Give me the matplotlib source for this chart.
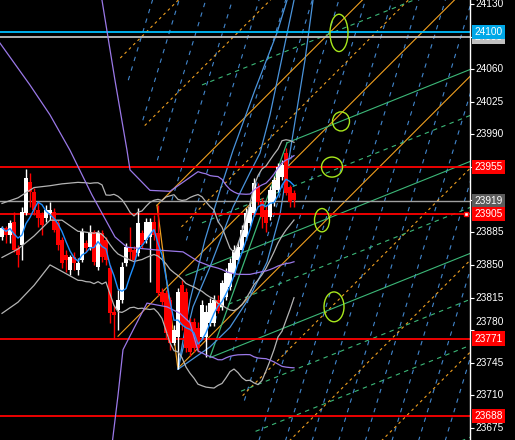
import numpy as np
import pandas as pd
import matplotlib
matplotlib.use("Agg")
import matplotlib.pyplot as plt
from matplotlib.patches import Ellipse

# ---------------- candles (oldest first) ----------------
opens = [23880, 23890, 23882, 23896, 23868, 23871, 23906, 23939, 23928, 23909,
         23904, 23900, 23906, 23907, 23895, 23877, 23861, 23845, 23859, 23845,
         23855, 23874, 23869, 23885, 23848, 23884, 23877, 23847, 23800, 23802,
         23812, 23852, 23868, 23866, 23863, 23884, 23877, 23880, 23896, 23884,
         23821, 23820, 23812, 23766, 23773, 23828, 23821, 23789, 23789, 23782,
         23773, 23773, 23788, 23788, 23812, 23805, 23816, 23826, 23841, 23855,
         23866, 23880, 23895, 23906, 23934, 23917, 23909, 23901, 23917, 23930,
         23944, 23970, 23934, 23927]
highs = [23892, 23892, 23898, 23907, 23871, 23912, 23953, 23949, 23933, 23918,
         23907, 23914, 23917, 23911, 23898, 23880, 23866, 23861, 23864, 23857,
         23890, 23877, 23893, 23888, 23888, 23888, 23880, 23850, 23807, 23823,
         23853, 23874, 23891, 23870, 23911, 23888, 23900, 23900, 23904, 23914,
         23825, 23823, 23816, 23785, 23825, 23834, 23825, 23793, 23793, 23789,
         23812, 23807, 23815, 23818, 23818, 23834, 23847, 23857, 23871, 23875,
         23893, 23911, 23918, 23943, 23938, 23922, 23914, 23935, 23945, 23959,
         23963, 23976, 23936, 23930]
lows = [23877, 23874, 23874, 23864, 23848, 23855, 23904, 23912, 23904, 23891,
        23882, 23896, 23898, 23885, 23866, 23847, 23842, 23839, 23845, 23839,
        23853, 23864, 23866, 23850, 23845, 23853, 23850, 23788, 23770, 23780,
        23809, 23849, 23855, 23852, 23860, 23868, 23874, 23832, 23877, 23817,
        23807, 23772, 23759, 23764, 23738, 23780, 23757, 23752, 23757, 23757,
        23770, 23751, 23784, 23784, 23798, 23802, 23812, 23823, 23838, 23852,
        23864, 23877, 23892, 23903, 23914, 23890, 23885, 23898, 23913, 23928,
        23941, 23925, 23912, 23912]
closes = [23890, 23882, 23895, 23866, 23861, 23907, 23943, 23928, 23909, 23900,
          23893, 23909, 23909, 23888, 23871, 23852, 23855, 23859, 23852, 23852,
          23885, 23868, 23885, 23853, 23884, 23859, 23855, 23798, 23796, 23812,
          23848, 23869, 23864, 23855, 23895, 23871, 23896, 23896, 23882, 23820,
          23810, 23777, 23766, 23780, 23821, 23785, 23761, 23757, 23761, 23761,
          23807, 23800, 23809, 23812, 23801, 23831, 23841, 23852, 23866, 23869,
          23888, 23906, 23912, 23938, 23917, 23901, 23895, 23930, 23941, 23955,
          23957, 23927, 23917, 23920]

# bollinger(20) values before bar 19 (history not on screen)
bb20_early_bars = [0, 4, 8, 12, 15]
bb20_early_up = [23916, 23922, 23933, 23935, 23937]
bb20_early_mid = [23858, 23867, 23881, 23898, 23898]
bb20_early_low = [23798, 23810, 23828, 23850, 23843]

# bollinger(50) (purple) before bar 49
bb50_up_bars = [24, 25, 28.25, 31.25, 32, 37, 42, 46]
bb50_up = [24145, 24134, 24048, 23973, 23952, 23930, 23929, 23941]
bb50_mid_bars = [-0.5, 7, 12, 17, 22.5, 28.25, 31.25, 38.75, 45.25]
bb50_mid = [24088, 24043, 24011, 23973, 23925, 23880, 23869, 23866, 23864]
bb50_low_bars = [27.5, 29, 30.25, 32.75, 36.25, 41.25, 44.5, 47]
bb50_low = [23657, 23710, 23759, 23780, 23809, 23805, 23798, 23788]

# horizontal levels
levels = [24100, 24095, 23955, 23919, 23905, 23771, 23688]
level_colors = ['#00bfff', '#c0c0c0', '#ff0000', '#a0a0a0', '#ff0000', '#ff0000', '#ff0000']
tag_colors = ['#00a8e8', '#c0c0c0', '#ff0000', '#5c5c5c', '#ff0000', '#ff0000', '#ff0000']

# price axis
tick_prices = [24130, 24095, 24060, 24025, 23990, 23955, 23920, 23885, 23850,
               23815, 23780, 23745, 23710, 23675]

# grid anchors (bar, price), slopes in price per bar, spacing in price
high_pt = (38.75, 23914)
low_pt = (44, 23738)
low0_pt = (29, 23770)
green_origin = (71.25, 23981)
green_low = (52, 23751)
green_mid = (46, 23837)
orange_slope = 4.29
green_slope = 1.72
blue_slope = 14.2
grid_step = 98.7
blue_anchor = (72.75, 23688)
blue_step = 94.5
# line where the dashed grid starts (two points)
grid_edge = [(31.25, 24052), (44, 23901)]

# arcs drawn from the low
arc0_bars = [44, 47, 50.75, 54.5, 57.75, 63.25, 68.75, 71.25]
arc0_prices = [23738, 23812, 23877, 23930, 23973, 24038, 24099, 24134]
arc1_bars = [44, 47.75, 52, 57.75, 62, 64.5, 67, 69.5, 73]
arc1_prices = [23738, 23805, 23848, 23912, 23949, 23970, 24011, 24062, 24134]
arc2_bars = [44, 52, 57, 62, 66.25, 69.5, 72.5, 75.75, 77.75]
arc2_prices = [23738, 23762, 23783, 23816, 23853, 23904, 23984, 24070, 24134]

# marked zones (bar, price, width in bars, height in price)
zones = [(84.25, 24099, 4.5, 40), (84.75, 24004, 4.25, 20.5), (82.5, 23955, 5.25, 21.5),
         (80, 23898, 3.75, 25), (83, 23805, 5, 32)]

# ---------------- figure ----------------
fig = plt.figure(figsize=(5.15, 4.4), dpi=100, facecolor='black')
ax = fig.add_axes([0, 0, 470 / 515, 1], facecolor='black')
xmin, xmax = -0.5, 117
ymin, ymax = 23662.1, 24134.3
ax.set_xlim(xmin, xmax)
ax.set_ylim(ymin, ymax)

n = len(closes)
x = np.arange(n)
cs = pd.Series(closes, dtype=float)

(eb0, ep0), (eb1, ep1) = grid_edge
edge_slope = (ep1 - ep0) / (eb1 - eb0)


def edge_start(p0, b0, m):
    # bar where a line p0 + m*(b-b0) meets the start edge
    return (ep0 - edge_slope * eb0 - p0 + m * b0) / (m - edge_slope)


def draw_line(b0, p0, m, b_from, color, dashed, lw=0.8, dash=(3, 3), z=1):
    bb = np.array([b_from, xmax + 1])
    ls = (0, dash) if dashed else '-'
    ax.plot(bb, p0 + m * (bb - b0), color=color, lw=lw, ls=ls, zorder=z)


# blue dashed
bb0, bp0 = blue_anchor
for k in range(-7, 11):
    p = bp0 + k * blue_step
    draw_line(bb0, p, blue_slope, edge_start(p, bb0, blue_slope), '#4286cc', True, dash=(4, 5))

# orange grid
hb, hp = high_pt
for k in [2, 1, -0.5, -3, -4, -5]:
    p = hp + k * grid_step
    draw_line(hb, p, orange_slope, edge_start(p, hb, orange_slope), '#f0a020', True, dash=(2.5, 3))
draw_line(hb, hp, orange_slope, hb, '#f0a020', False)
draw_line(hb, hp - grid_step, orange_slope, low0_pt[0], '#f0a020', False)
draw_line(hb, hp - 2 * grid_step, orange_slope, low_pt[0], '#f0a020', False)
ax.plot([high_pt[0], low_pt[0]], [high_pt[1], low_pt[1]], color='#f0a020', lw=0.9, zorder=1)

# green grid
gb, gp = green_origin
for k in [1, -0.5, -1.5, -2.5, -3, -4]:
    p = gp + k * grid_step
    draw_line(gb, p, green_slope, max(edge_start(p, gb, green_slope), 50), '#3cb878', True, dash=(4, 4))
draw_line(gb, gp, green_slope, gb, '#3cb878', False)
draw_line(gb, gp - grid_step, green_slope, green_mid[0], '#3cb878', False)
draw_line(gb, gp - 2 * grid_step, green_slope, green_low[0], '#3cb878', False)
ax.plot([green_low[0], green_origin[0]], [green_low[1], green_origin[1]], color='#3cb878', lw=0.9, zorder=1)

# arcs
for ab, ap in [(arc0_bars, arc0_prices), (arc1_bars, arc1_prices), (arc2_bars, arc2_prices)]:
    ax.plot(ab, ap, color='#4a94dc', lw=0.9, zorder=1)

# horizontal levels
for lv, lc in zip(levels, level_colors):
    ax.axhline(lv, color=lc, lw=1.3 if lc != '#a0a0a0' else 1.0, zorder=2)

# bollinger 20 (grey)
mid20 = cs.rolling(20).mean()
sd20 = cs.rolling(20).std(ddof=0)
bx = list(bb20_early_bars) + list(x[19:])
for early, comp in [(bb20_early_up, mid20 + 2 * sd20), (bb20_early_mid, mid20), (bb20_early_low, mid20 - 2 * sd20)]:
    ax.plot(bx, list(early) + list(comp[19:]), color='#b4b4b4', lw=0.9, zorder=4)

# bollinger 50 (purple)
mid50 = cs.rolling(50).mean()
sd50 = cs.rolling(50).std(ddof=0)
for eb, ev, comp in [(bb50_up_bars, bb50_up, mid50 + 2 * sd50), (bb50_mid_bars, bb50_mid, mid50),
                     (bb50_low_bars, bb50_low, mid50 - 2 * sd50)]:
    ax.plot(list(eb) + list(x[49:]), list(ev) + list(comp[49:]), color='#9a78e8', lw=0.9, zorder=4)

# candles
o = np.array(opens, float)
c = np.array(closes, float)
up = c >= o
col = np.where(up, '#ffffff', '#ff0000')
ax.vlines(x, lows, highs, colors=col, lw=1.0, zorder=3)
body = np.maximum(np.abs(c - o), 1.2)
ax.bar(x, body, bottom=np.minimum(o, c), width=0.8, color=col, linewidth=0, zorder=3)

# fast moving average
ax.plot(x, cs.rolling(5, min_periods=1).mean(), color='#1e90ff', lw=1.0, zorder=4)

# zones
for zb, zp, zw, zh in zones:
    ax.add_patch(Ellipse((zb, zp), zw, zh, fill=False, ec='#a8e81c', lw=1.0, zorder=5))

# marker on 23905
ax.plot([116], [23905], marker='s', ms=3.5, mfc='white', mec='#ff0000', mew=1, clip_on=False, zorder=6)

# price axis
for s in ['top', 'bottom', 'left']:
    ax.spines[s].set_visible(False)
ax.spines['right'].set_color('white')
ax.spines['right'].set_linewidth(1)
ax.set_xticks([])
ax.yaxis.set_ticks_position('right')
ax.set_yticks(tick_prices)
ax.set_yticklabels([])
ax.tick_params(axis='y', colors='white', length=3, width=0.8)

tr = ax.get_yaxis_transform()
font = 'Liberation Sans'
for tp in tick_prices:
    if tp in (24095, 23955, 23920):
        continue  # hidden under the level tags
    shown = tp + 8.8 if tp == 23780 else tp
    ax.text(1.0106, shown, str(tp), transform=tr, fontsize=7.3, color='white', family=font,
            va='center', ha='left', clip_on=False, zorder=7)

# level tags, the 24100 tag sits on top of the 24095 one
for i in [1, 0, 2, 3, 4, 5, 6]:
    ax.text(1.0095, levels[i], str(levels[i]), transform=tr, fontsize=7.3, color='white', family=font,
            va='center', ha='left', clip_on=False, zorder=9 if i == 0 else 8,
            bbox=dict(boxstyle='square,pad=0.2', fc=tag_colors[i], ec='none'))

fig.savefig('out.png', dpi=100, facecolor='black')
